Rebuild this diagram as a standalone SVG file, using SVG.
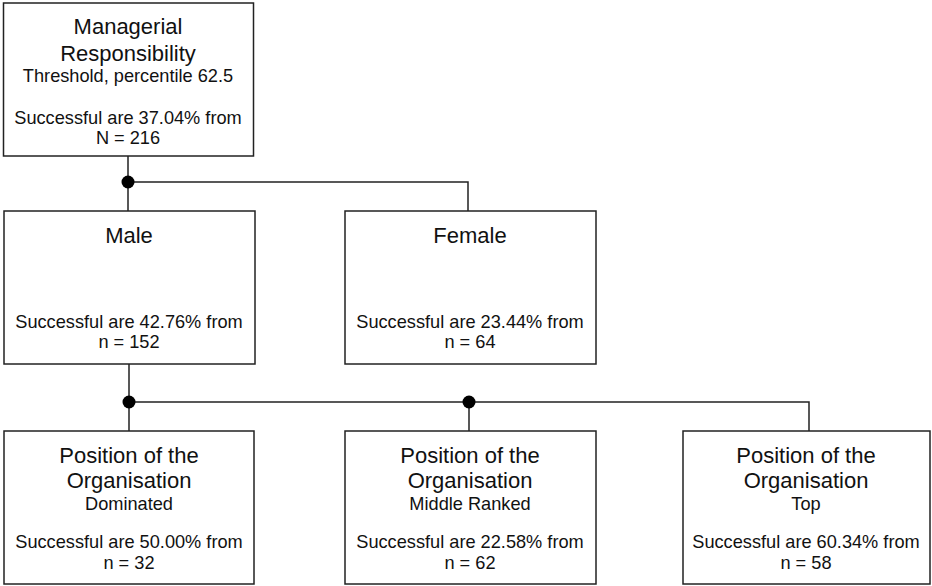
<svg xmlns="http://www.w3.org/2000/svg" width="932" height="586" viewBox="0 0 932 586">
<style>
.box{fill:#fff;stroke:#222;stroke-width:1.5}
.t{font-family:"Liberation Sans",Arial,sans-serif;font-size:22px;fill:#111;text-anchor:middle}
.s{font-family:"Liberation Sans",Arial,sans-serif;font-size:18.2px;fill:#111;text-anchor:middle}
.c{fill:none;stroke:#222;stroke-width:1.5}
.d{fill:#000}
</style>
<rect width="932" height="586" fill="#fff"/>
<g id="connectors">
<path class="c" d="M128,156V211M128,182H468V211"/>
<path class="c" d="M129,364V431M129,402H809V431M469,402V431"/>
<circle class="d" cx="128" cy="182" r="6.5"/>
<circle class="d" cx="129" cy="402" r="6.5"/>
<circle class="d" cx="469" cy="402" r="6.5"/>
</g>
<g id="root">
<rect class="box" x="3.5" y="3" width="250" height="153"/>
<text class="t" x="128" y="34">Managerial</text>
<text class="t" x="128" y="61">Responsibility</text>
<text class="s" x="128" y="82">Threshold, percentile 62.5</text>
<text class="s" x="128" y="124">Successful are 37.04% from</text>
<text class="s" x="128" y="144">N = 216</text>
</g>
<g id="male">
<rect class="box" x="4" y="211" width="251" height="153"/>
<text class="t" x="129" y="243">Male</text>
<text class="s" x="129" y="328">Successful are 42.76% from</text>
<text class="s" x="129" y="348">n = 152</text>
</g>
<g id="female">
<rect class="box" x="345" y="211" width="251" height="153"/>
<text class="t" x="470" y="243">Female</text>
<text class="s" x="470" y="328">Successful are 23.44% from</text>
<text class="s" x="470" y="348">n = 64</text>
</g>
<g id="dominated">
<rect class="box" x="4" y="431" width="250" height="153"/>
<text class="t" x="129" y="463">Position of the</text>
<text class="t" x="129" y="488">Organisation</text>
<text class="s" x="129" y="510">Dominated</text>
<text class="s" x="129" y="548">Successful are 50.00% from</text>
<text class="s" x="129" y="569">n = 32</text>
</g>
<g id="middle">
<rect class="box" x="345" y="431" width="251" height="153"/>
<text class="t" x="470" y="463">Position of the</text>
<text class="t" x="470" y="488">Organisation</text>
<text class="s" x="470" y="510">Middle Ranked</text>
<text class="s" x="470" y="548">Successful are 22.58% from</text>
<text class="s" x="470" y="569">n = 62</text>
</g>
<g id="top">
<rect class="box" x="683" y="431" width="247" height="153"/>
<text class="t" x="806" y="463">Position of the</text>
<text class="t" x="806" y="488">Organisation</text>
<text class="s" x="806" y="510">Top</text>
<text class="s" x="806" y="548">Successful are 60.34% from</text>
<text class="s" x="806" y="569">n = 58</text>
</g>
</svg>
